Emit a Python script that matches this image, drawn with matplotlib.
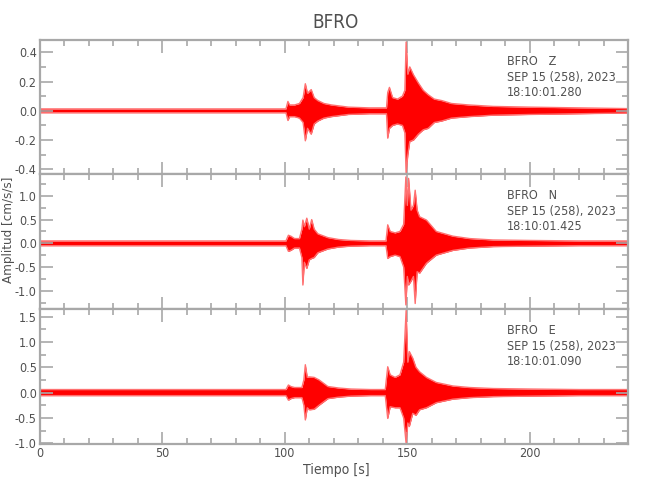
import numpy as np
import matplotlib
matplotlib.use('Agg')
import matplotlib.pyplot as plt
from matplotlib.ticker import MultipleLocator, FormatStrFormatter

plt.rcParams['font.family'] = ['DejaVu Sans']
plt.rcParams['font.stretch'] = 'condensed'

# envelope of each trace (time [s], upper, lower)
t_z = [0, 100.5, 101.3, 102, 104, 106, 107.5, 108.4, 109.3, 110.8,
       112, 113.5, 116, 119, 126, 134.5, 141.5, 142.0, 142.7, 144,
       146, 148, 149.0, 149.5, 150.2, 151, 152.5, 154.5, 156.5, 158.5,
       161, 164, 168, 175, 185, 200, 220, 240]
up_z = [0.013, 0.013, 0.064, 0.04, 0.04, 0.05, 0.09, 0.185, 0.12, 0.145,
        0.09, 0.07, 0.05, 0.04, 0.025, 0.02, 0.02, 0.125, 0.16, 0.09,
        0.08, 0.1, 0.14, 0.47, 0.25, 0.3, 0.246, 0.19, 0.14, 0.11,
        0.08, 0.07, 0.05, 0.04, 0.03, 0.025, 0.02, 0.015]
lo_z = [-0.013, -0.013, -0.066, -0.04, -0.04, -0.05, -0.08, -0.205, -0.12, -0.16,
        -0.09, -0.07, -0.05, -0.04, -0.025, -0.02, -0.02, -0.187, -0.12, -0.1,
        -0.09, -0.1, -0.15, -0.43, -0.3, -0.21, -0.2, -0.16, -0.13, -0.12,
        -0.08, -0.07, -0.05, -0.04, -0.03, -0.025, -0.02, -0.015]

t_n = [0, 100.5, 101.5, 102.5, 104, 106, 107.0, 107.4, 108, 109,
       110, 111, 112, 113.5, 117.6, 122, 127, 135, 141.3, 142.0,
       143, 145, 147, 148.5, 149.4, 150.0, 150.5, 151.5, 152.5, 153.2,
       154, 155, 157.8, 161.8, 168.6, 175.4, 185, 200, 220, 240]
up_n = [0.05, 0.05, 0.17, 0.15, 0.1, 0.1, 0.3, 0.49, 0.35, 0.53,
        0.3, 0.5, 0.3, 0.2, 0.12, 0.08, 0.06, 0.05, 0.05, 0.39,
        0.25, 0.22, 0.25, 0.4, 1.4, 0.8, 1.37, 0.7, 0.8, 1.12,
        0.7, 0.56, 0.49, 0.25, 0.15, 0.1, 0.07, 0.06, 0.05, 0.05]
lo_n = [-0.05, -0.05, -0.17, -0.15, -0.1, -0.1, -0.3, -0.88, -0.4, -0.53,
        -0.35, -0.32, -0.3, -0.2, -0.12, -0.08, -0.06, -0.05, -0.05, -0.32,
        -0.28, -0.25, -0.28, -0.5, -1.3, -0.7, -0.88, -0.8, -0.7, -1.27,
        -0.6, -0.63, -0.42, -0.25, -0.15, -0.1, -0.07, -0.06, -0.05, -0.05]

t_e = [0, 100.5, 101.5, 102.5, 104, 107, 107.8, 108.4, 109.2, 110,
       112, 114, 117.6, 122, 127, 135, 141.0, 142.0, 143, 145,
       147, 148.5, 149.5, 150.2, 150.8, 152.2, 153.5, 155, 157.8, 161.8,
       168.6, 175.4, 185, 200, 220, 240]
up_e = [0.06, 0.06, 0.15, 0.12, 0.1, 0.1, 0.25, 0.55, 0.3, 0.31,
        0.3, 0.25, 0.12, 0.09, 0.07, 0.06, 0.06, 0.51, 0.35, 0.3,
        0.35, 0.6, 1.62, 0.6, 0.81, 0.68, 0.5, 0.41, 0.3, 0.2,
        0.13, 0.1, 0.08, 0.07, 0.06, 0.06]
lo_e = [-0.06, -0.06, -0.15, -0.12, -0.1, -0.1, -0.25, -0.54, -0.3, -0.34,
        -0.33, -0.25, -0.12, -0.09, -0.07, -0.06, -0.06, -0.51, -0.28, -0.3,
        -0.3, -0.5, -1.0, -0.6, -0.67, -0.41, -0.45, -0.34, -0.3, -0.2,
        -0.13, -0.1, -0.08, -0.07, -0.06, -0.06]

channels = ['Z', 'N', 'E']
start_times = ['18:10:01.280', '18:10:01.425', '18:10:01.090']
ylims = [(-0.432, 0.484), (-1.386, 1.462), (-1.015, 1.65)]
ymajor = [0.2, 0.5, 0.5]
yminor = [0.1, 0.25, 0.25]

gray = '#a8a8a8'
txt = '#505050'

fig = plt.figure(figsize=(6.5, 5), dpi=100)
rects = [[0.0608, 0.652, 0.9054, 0.268],
         [0.0608, 0.382, 0.9054, 0.270],
         [0.0608, 0.112, 0.9054, 0.270]]
traces = [(t_z, up_z, lo_z), (t_n, up_n, lo_n), (t_e, up_e, lo_e)]

for i in range(3):
    ax = fig.add_axes(rects[i])
    t, up, lo = traces[i]
    ax.fill_between(t, lo, up, color='red', lw=0)
    ax.plot(t, up, color='#ff7070', lw=1.0)
    ax.plot(t, lo, color='#ff7070', lw=1.0)
    ax.set_xlim(0, 240)
    ax.set_ylim(*ylims[i])
    ax.xaxis.set_major_locator(MultipleLocator(50))
    ax.xaxis.set_minor_locator(MultipleLocator(10))
    ax.yaxis.set_major_locator(MultipleLocator(ymajor[i]))
    ax.yaxis.set_minor_locator(MultipleLocator(yminor[i]))
    ax.yaxis.set_major_formatter(FormatStrFormatter('%.1f'))
    ax.tick_params(which='both', direction='in', top=True, right=True,
                   color=gray, labelcolor=txt, labelsize=9, width=1.2, pad=2)
    ax.tick_params(which='major', length=9)
    ax.tick_params(which='minor', length=4.5)
    for s in ax.spines.values():
        s.set_color(gray)
        s.set_linewidth(1.6)
    if i < 2:
        ax.tick_params(labelbottom=False)
    ax.text(0.794, 0.84, 'BFRO   ' + channels[i], transform=ax.transAxes,
            va='center', ha='left', fontsize=9, color=txt)
    ax.text(0.794, 0.72, 'SEP 15 (258), 2023', transform=ax.transAxes,
            va='center', ha='left', fontsize=9, color=txt)
    ax.text(0.794, 0.61, start_times[i], transform=ax.transAxes,
            va='center', ha='left', fontsize=9, color=txt)

fig.text(0.516, 0.956, 'BFRO', ha='center', va='center', fontsize=13.5, color=txt)
fig.text(0.518, 0.06, 'Tiempo [s]', ha='center', va='center', fontsize=10, color=txt)
fig.text(0.013, 0.54, 'Amplitud [cm/s/s]', ha='center', va='center',
         rotation=90, fontsize=9.5, color=txt)

fig.savefig('out.png', dpi=100)
